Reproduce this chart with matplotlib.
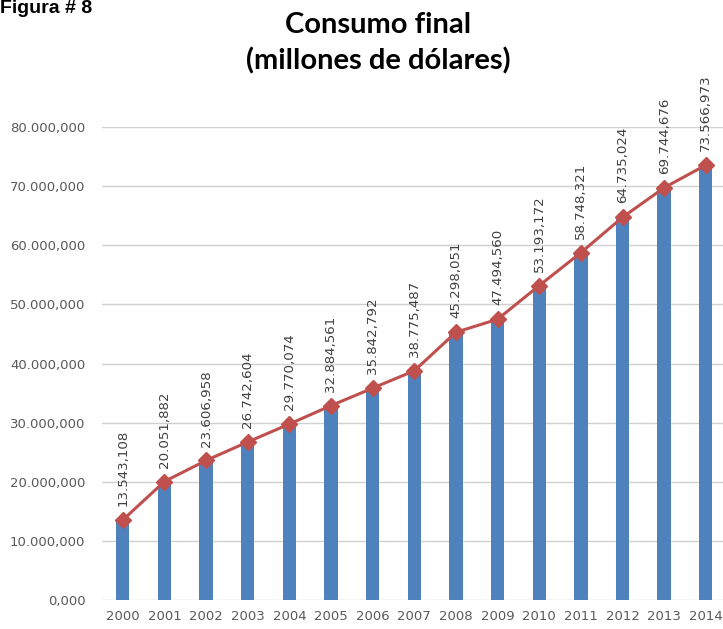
import numpy as np
import matplotlib.pyplot as plt

years = ['2000', '2001', '2002', '2003', '2004', '2005', '2006', '2007',
         '2008', '2009', '2010', '2011', '2012', '2013', '2014']
consumo = [13543.108, 20051.882, 23606.958, 26742.604, 29770.074, 32884.561,
           35842.792, 38775.487, 45298.051, 47494.560, 53193.172, 58748.321,
           64735.024, 69744.676, 73566.973]
yticks = [0, 10000, 20000, 30000, 40000, 50000, 60000, 70000, 80000]


def fmt(v):
    s = f"{v:,.3f}"
    return s.replace(',', 'X').replace('.', ',').replace('X', '.')


fig = plt.figure(figsize=(7.23, 6.29), dpi=100)
ax = fig.add_axes([0.141, 0.046, 0.864, 0.752])

x = np.arange(len(years))
ax.bar(x, consumo, width=0.32, color='#4F81BD', zorder=2)
ax.plot(x, consumo, color='#C0504D', lw=2.2, marker='D', ms=8, zorder=3)

for xi, v in zip(x, consumo):
    ax.annotate(fmt(v), (xi, v), xytext=(0, 10), textcoords='offset points',
                rotation=90, ha='center', va='bottom', fontsize=9.6,
                color='#404040', annotation_clip=False)

ax.set_xlim(-0.5, len(years) - 0.5)
ax.set_ylim(0, 80000)
ax.set_yticks(yticks)
ax.set_yticklabels([fmt(t) for t in yticks])
ax.set_xticks(x)
ax.set_xticklabels(years)
ax.tick_params(length=0, labelsize=9.5, colors='#595959')
ax.tick_params(axis='y', pad=12)
ax.tick_params(axis='x', pad=7)
ax.grid(axis='y', color='#D0D0D0', lw=1, zorder=0)
for s in ax.spines.values():
    s.set_visible(False)

fig.text(0.523, 1 - 33 / 629, 'Consumo final', ha='center', va='baseline',
         fontsize=21, fontweight='bold', family='Lato')
fig.text(0.523, 1 - 69 / 629, '(millones de dólares)', ha='center', va='baseline',
         fontsize=21, fontweight='bold', family='Lato')
fig.text(0.0, 1 - 13 / 629, 'Figura # 8', ha='left', va='baseline',
         fontsize=14, fontweight='bold', family='Liberation Sans')

fig.savefig('out.png', dpi=100)
